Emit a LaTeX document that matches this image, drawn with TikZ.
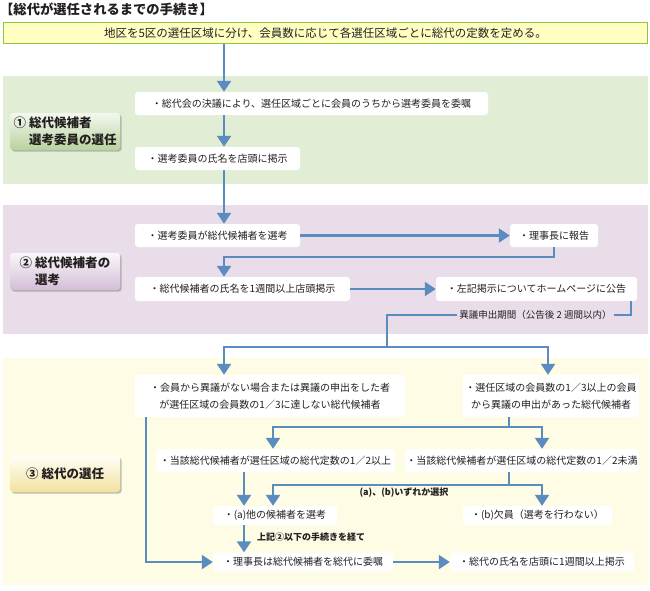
\documentclass[tikz,border=0pt]{standalone}
\usepackage{fontspec}
\setmainfont{Noto Sans CJK JP}
\usetikzlibrary{arrows.meta,shadows}
\definecolor{arrowc}{HTML}{5B8CC0}
\definecolor{secgreen}{HTML}{E2EDD6}
\definecolor{secpurple}{HTML}{E9DDEA}
\definecolor{secyellow}{HTML}{FEFCE5}
\definecolor{topfill}{HTML}{FFFFC2}
\definecolor{topborder}{HTML}{8CC63F}
\definecolor{txt}{HTML}{231F20}
\definecolor{lgreenbot}{HTML}{B8D29E}
\definecolor{lpurplebot}{HTML}{D3BED6}
\definecolor{lyellowbot}{HTML}{F2E29E}
\tikzset{
  box/.style={fill=white, rounded corners=3pt, inner sep=0pt, text=txt,
    font=\fontsize{10}{17}\selectfont, align=center},
  flow/.style={draw=arrowc, line width=2.2pt, -{Triangle[width=14pt,length=11pt]}},
  plainline/.style={draw=arrowc, line width=2.2pt},
  seclabel/.style={rounded corners=3pt, minimum width=110pt, text=txt,
    font=\bfseries\fontsize{12.5}{17}\selectfont, align=left,
    drop shadow={shadow xshift=1.6pt, shadow yshift=-1.6pt, opacity=0.45, fill=black!55}},
  note/.style={text=txt, inner sep=2pt, font=\bfseries\fontsize{9}{10}\selectfont},
}
\begin{document}
\begin{tikzpicture}[x=1pt,y=-1pt]
\useasboundingbox (0,0) rectangle (650,590);
% section backgrounds
\fill[secgreen] (3,76) rectangle (648,184);
\fill[secpurple] (3,205) rectangle (648,334);
\fill[secyellow] (3,358) rectangle (648,585);
% title
\node[anchor=west, inner sep=0pt, text=txt, font=\bfseries\fontsize{13.3}{15}\selectfont] (title) at (0,9) {【総代が選任されるまでの手続き】};
% top box
\node[draw=topborder, line width=1.5pt, fill=topfill, minimum width=644pt, minimum height=21pt, inner sep=0pt, text=txt, font=\fontsize{11.5}{13}\selectfont] (top) at (325.5,33) {地区を5区の選任区域に分け、会員数に応じて各選任区域ごとに総代の定数を定める。};
% section labels
\node[seclabel, top color=white!60!secgreen, bottom color=lgreenbot, minimum height=37pt] (l1) at (65,131.5) {①\kern3pt 総代候補者\\\hphantom{①\kern3pt }選考委員の選任};
\node[seclabel, top color=white!75!secpurple, bottom color=lpurplebot, minimum height=37pt] (l2) at (65,271.5) {②\kern3pt 総代候補者の\\\hphantom{②\kern3pt }選考};
\node[seclabel, top color=white!70!secyellow, bottom color=lyellowbot, minimum height=36pt, align=center] (l3) at (65,474) {③\kern3pt 総代の選任};
% boxes
\node[box, minimum width=353pt, minimum height=23pt] (b1) at (311.5,103.5) {・総代会の決議により、選任区域ごとに会員のうちから選考委員を委嘱};
\node[box, minimum width=165pt, minimum height=23pt] (b2) at (217.5,158.5) {・選考委員の氏名を店頭に掲示};
\node[box, minimum width=165pt, minimum height=23pt] (b3) at (217.5,235.5) {・選考委員が総代候補者を選考};
\node[box, minimum width=88pt, minimum height=23pt] (b4) at (554,235.5) {・理事長に報告};
\node[box, minimum width=215pt, minimum height=24pt] (b5) at (242.5,289) {・総代候補者の氏名を1週間以上店頭掲示};
\node[box, minimum width=201pt, minimum height=24pt] (b6) at (536.5,289) {・左記掲示についてホームページに公告};
\node[box, minimum width=270pt, minimum height=42pt] (b7) at (270,396) {・会員から異議がない場合または異議の申出をした者\\が選任区域の会員数の1／3に達しない総代候補者};
\node[box, minimum width=176pt, minimum height=42pt] (b8) at (551,396) {・選任区域の会員数の1／3以上の会員\\から異議の申出があった総代候補者};
\node[box, minimum width=239pt, minimum height=23pt] (b9) at (275.5,460.5) {・当該総代候補者が選任区域の総代定数の1／2以上};
\node[box, minimum width=234pt, minimum height=23pt] (b10) at (522,460.5) {・当該総代候補者が選任区域の総代定数の1／2未満};
\node[box, minimum width=124pt, minimum height=19pt] (b11) at (275,515.5) {・(a)他の候補者を選考};
\node[box, minimum width=149pt, minimum height=19pt] (b12) at (537.5,515.5) {・(b)欠員（選考を行わない）};
\node[box, minimum width=180pt, minimum height=19pt] (b13) at (303,562) {・理事長は総代候補者を総代に委嘱};
\node[box, minimum width=184pt, minimum height=19pt] (b14) at (542,562) {・総代の氏名を店頭に1週間以上掲示};
% labels on connectors
\node[text=txt, inner sep=2pt, font=\fontsize{9.5}{11}\selectfont] (kigen) at (535.5,315) {異議申出期間（公告後 2 週間以内）};
\node[note] (sel) at (404,493) {(a)、(b)いずれか選択};
\node[note, anchor=west] (via) at (255,537) {上記②以下の手続きを経て};
% helper coordinates
\coordinate (c1) at (224,0);
\coordinate (j1) at (224,257);
\coordinate (k1) at (631,0);
\coordinate (j2) at (387,347);
\coordinate (c3) at (548,0);
\coordinate (c4) at (146,0);
\coordinate (j3) at (509,427);
\coordinate (j4) at (509,485);
\coordinate (ca) at (273,0);
\coordinate (cb) at (542,0);
\coordinate (cd) at (244,0);
% connectors
\draw[flow] (top.south -| c1) -- (b1.north -| c1);
\draw[flow] (b1.south -| c1) -- (b2.north -| c1);
\draw[flow] (b2.south -| c1) -- (b3.north -| c1);
\draw[flow] (b3.east) -- (b4.west);
\draw[flow] (b4.south) |- (j1) -- (b5.north -| j1);
\draw[flow] (b5.east) -- (b6.west);
\draw[plainline] (b6.south -| k1) |- (kigen.east);
\draw[plainline] (kigen.west) -| (j2);
\draw[flow] (j2) -| (b7.north -| c1);
\draw[flow] (j2) -| (b8.north -| c3);
\draw[flow] (b7.south -| c4) |- (b13.west);
\draw[plainline] (b8.south -| j3) -- (j3);
\draw[flow] (j3) -| (b9.north -| ca);
\draw[flow] (j3) -| (b10.north -| cb);
\draw[flow] (b9.south -| cd) -- (b11.north -| cd);
\draw[plainline] (b10.south -| j4) -- (j4);
\draw[flow] (j4) -| (b11.north -| ca);
\draw[flow] (j4) -| (b12.north -| cb);
\draw[flow] (b11.south -| cd) -- (b13.north -| cd);
\draw[flow] (b13.east) -- (b14.west);
\end{tikzpicture}
\end{document}
